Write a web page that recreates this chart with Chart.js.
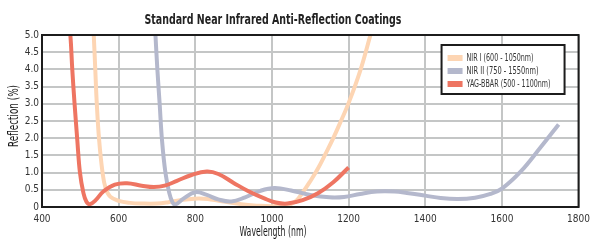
<!DOCTYPE html>
<html><head><meta charset="utf-8">
<script src="https://cdn.jsdelivr.net/npm/chart.js@4/dist/chart.umd.min.js"></script>
<style>html,body{margin:0;padding:0;background:#fff;}#wrap{width:596px;height:245px;position:relative;}</style>
</head><body><div id="wrap"><canvas id="c" width="596" height="245" style="width:596px;height:245px"></canvas></div>
<script>
const FONT = "'Liberation Sans Narrow','DejaVu Sans Condensed','Roboto Condensed','Liberation Sans',sans-serif";
const titleText = 'Standard Near Infrared Anti-Reflection Coatings';
const xTitle = 'Wavelength (nm)';
const yTitle = 'Reflection (%)';
const seriesLabels = ['NIR I (600 - 1050nm)', 'NIR II (750 - 1550nm)', 'YAG-BBAR (500 - 1100nm)'];
const seriesColors = ['#fdd5b3', '#b4b8cc', '#ee7562'];
const xTicks = [400, 600, 800, 1000, 1200, 1400, 1600, 1800];
const yTicks = [0, 0.5, 1.0, 1.5, 2.0, 2.5, 3.0, 3.5, 4.0, 4.5, 5.0];

const nir1Wavelength = [532, 535, 539, 543, 549, 558, 566, 578, 600, 630, 661, 700, 730, 760, 808, 840, 880, 920, 960, 1000, 1035, 1060, 1080, 1100, 1120, 1140, 1160, 1180, 1200, 1230, 1257, 1262];
const nir1Reflection = [5.6, 5.0, 4.0, 3.0, 1.96, 1.0, 0.55, 0.3, 0.18, 0.12, 0.1, 0.1, 0.14, 0.2, 0.25, 0.22, 0.15, 0.08, 0.04, 0.02, 0.05, 0.15, 0.42, 0.75, 1.12, 1.55, 2.0, 2.5, 3.02, 3.95, 5.0, 5.2];

const nir2Wavelength = [693, 696, 701, 707, 713, 722, 732, 740, 748, 770, 800, 830, 860, 894, 930, 970, 1007, 1050, 1100, 1150, 1188, 1230, 1274, 1320, 1352, 1400, 1440, 1485, 1530, 1570, 1602, 1650, 1700, 1748];
const nir2Reflection = [5.6, 5.0, 4.0, 3.0, 1.96, 1.0, 0.41, 0.15, 0.07, 0.25, 0.43, 0.35, 0.22, 0.16, 0.28, 0.47, 0.55, 0.48, 0.35, 0.28, 0.29, 0.38, 0.45, 0.45, 0.41, 0.33, 0.26, 0.23, 0.27, 0.38, 0.55, 1.04, 1.72, 2.4];

const yagWavelength = [468, 474, 479, 485, 492, 499, 508, 516, 525, 540, 560, 590, 622, 660, 692, 720, 752, 790, 830, 860, 900, 940, 980, 1010, 1040, 1080, 1120, 1160, 1200];
const yagReflection = [5.6, 5.0, 4.0, 3.0, 1.96, 1.0, 0.41, 0.15, 0.08, 0.2, 0.45, 0.65, 0.69, 0.62, 0.58, 0.62, 0.76, 0.93, 1.03, 0.96, 0.7, 0.45, 0.25, 0.13, 0.1, 0.2, 0.4, 0.72, 1.15];

const toPts = (xs, ys) => xs.map((x, i) => ({x, y: ys[i]}));
const seriesData = [toPts(nir1Wavelength, nir1Reflection), toPts(nir2Wavelength, nir2Reflection), toPts(yagWavelength, yagReflection)];
const drawOrder = [3, 2, 1];

const decor = {
  id: 'decor',
  afterDatasetsDraw(chart) {
    const {ctx, chartArea: a} = chart;
    ctx.save();
    ctx.strokeStyle = '#1c1c1c';
    ctx.lineWidth = 2;
    ctx.strokeRect(a.left, a.top, a.right - a.left, a.bottom - a.top);
    const bx = a.right - 137, by = a.top + 10, bw = 123, bh = 49;
    ctx.fillStyle = '#fff';
    ctx.fillRect(bx, by, bw, bh);
    ctx.strokeRect(bx, by, bw, bh);
    ctx.font = "11px " + FONT;
    ctx.textBaseline = 'middle';
    ctx.textAlign = 'left';
    chart.data.datasets.forEach((ds, i) => {
      const cy = by + 13 + i * 13;
      ctx.fillStyle = ds.borderColor;
      ctx.fillRect(bx + 6, cy - 3, 15, 6);
      ctx.fillStyle = '#333';
      ctx.fillText(ds.label, bx + 25, cy + 0.5, i === 2 ? 84 : (i === 1 ? 72 : 67));
    });
    ctx.restore();
  },
  afterDraw(chart) {
    const {ctx} = chart;
    ctx.save();
    ctx.fillStyle = '#222';
    ctx.textAlign = 'center';
    ctx.textBaseline = 'alphabetic';
    ctx.font = "bold 14px " + FONT;
    ctx.fillText(titleText, 273, 24, 257);
    ctx.font = "14px " + FONT;
    ctx.fillStyle = '#1a1a1a';
    ctx.textBaseline = 'middle';
    ctx.fillText(xTitle, 273, 232, 67);
    ctx.translate(14, 116);
    ctx.rotate(-Math.PI / 2);
    ctx.fillText(yTitle, 0, 0, 62);
    ctx.restore();
  }
};

new Chart(document.getElementById('c'), {
  type: 'line',
  data: {
    datasets: seriesLabels.map((label, i) => ({
      label,
      data: seriesData[i],
      borderColor: seriesColors[i],
      backgroundColor: seriesColors[i],
      borderWidth: 4,
      pointRadius: 0,
      tension: 0.4,
      fill: false,
      order: drawOrder[i]
    }))
  },
  options: {
    responsive: false,
    animation: false,
    devicePixelRatio: 1,
    layout: {padding: {top: 35, right: 13, left: 0, bottom: 0}},
    plugins: {legend: {display: false}, title: {display: false}, tooltip: {enabled: false}},
    scales: {
      x: {
        type: 'linear', min: 400, max: 1800,
        afterBuildTicks: s => { s.ticks = xTicks.map(v => ({value: v})); },
        afterFit: s => { s.height = 38; },
        grid: {color: '#c4c6c6', lineWidth: 2, drawTicks: false},
        border: {display: false},
        ticks: {padding: 6, color: '#333', font: {family: FONT, size: 10}, maxRotation: 0, autoSkip: false,
          callback: v => String(v)}
      },
      y: {
        min: 0, max: 5,
        afterBuildTicks: s => { s.ticks = yTicks.map(v => ({value: v})); },
        afterFit: s => { s.width = 42; },
        grid: {color: '#c4c6c6', lineWidth: 2, drawTicks: false},
        border: {display: false},
        ticks: {padding: 3, color: '#333', font: {family: FONT, size: 10}, autoSkip: false,
          callback: v => v === 0 ? '0' : v.toFixed(1)}
      }
    }
  },
  plugins: [decor]
});
</script>
</body></html>
